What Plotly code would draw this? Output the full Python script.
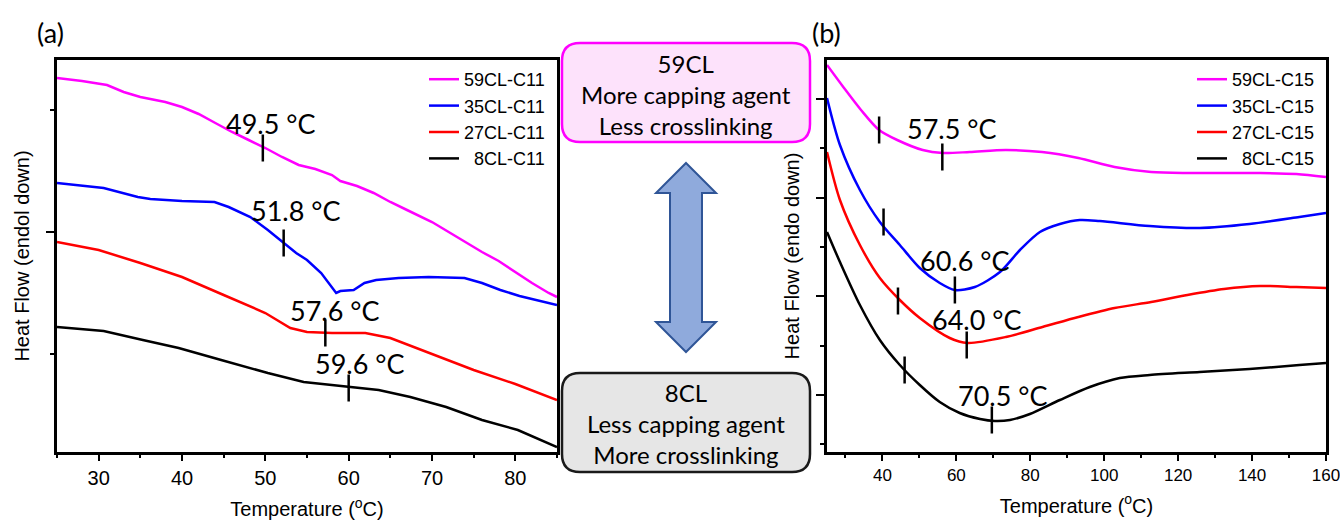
import plotly.graph_objects as go

# ---------------- data: panel (a) C11 series ----------------
t_a_59 = [25, 28, 31, 33, 35, 38, 40, 42, 44, 46, 48, 50, 52, 54, 56, 58, 59, 61, 63, 65, 67, 70, 72, 74, 76, 78, 80, 82, 84, 85]
hf_a_59 = [3.74, 3.71, 3.67, 3.60, 3.55, 3.50, 3.45, 3.38, 3.29, 3.20, 3.12, 3.04, 2.95, 2.87, 2.83, 2.77, 2.71, 2.66, 2.59, 2.50, 2.42, 2.30, 2.20, 2.10, 2.00, 1.91, 1.80, 1.69, 1.59, 1.55]

t_a_35 = [25, 30.6, 34.7, 36.2, 40, 43.9, 45.6, 48.2, 50.3, 52.2, 53.7, 55, 56.7, 58.5, 59, 60.6, 61.9, 63.3, 66, 69.6, 73.9, 76, 78.2, 80.5, 82.5, 85]
hf_a_35 = [2.69, 2.64, 2.55, 2.53, 2.51, 2.50, 2.45, 2.35, 2.22, 2.09, 1.99, 1.92, 1.79, 1.59, 1.61, 1.62, 1.69, 1.72, 1.74, 1.75, 1.74, 1.69, 1.62, 1.56, 1.52, 1.47]

t_a_27 = [25, 30, 35, 40, 45, 50, 53, 55, 58, 62, 65, 70, 75, 80, 85]
hf_a_27 = [2.10, 2.02, 1.89, 1.75, 1.57, 1.39, 1.24, 1.20, 1.19, 1.19, 1.14, 0.98, 0.82, 0.68, 0.52]

t_a_8 = [25, 30.6, 35.3, 39.6, 44.7, 50.3, 54.6, 60.1, 63.6, 67.4, 71.7, 76, 80.3, 85]
hf_a_8 = [1.25, 1.21, 1.12, 1.04, 0.92, 0.79, 0.70, 0.65, 0.62, 0.55, 0.45, 0.32, 0.22, 0.05]

# Tg marks (a)
mark_a_t = [49.7, 52.2, 57.2, 60.0]
mark_a_hf = [3.04, 2.09, 1.19, 0.64]
label_a_text = ["49.5 °C", "51.8 °C", "57.6 °C", "59.6 °C"]
label_a_t = [50.7, 53.7, 58.3, 61.4]
label_a_hf = [3.29, 2.42, 1.42, 0.89]

# ---------------- data: panel (b) C15 series ----------------
t_b_59 = [25, 29.4, 34.2, 39.1, 44, 50.9, 56.3, 63.6, 73.4, 83.2, 93, 102.8, 112.7, 122.5, 132.4, 142.2, 152, 160]
hf_b_59 = [3.87, 3.65, 3.42, 3.22, 3.12, 3.02, 2.99, 3.00, 3.02, 3.00, 2.94, 2.85, 2.80, 2.79, 2.79, 2.79, 2.78, 2.75]

t_b_35 = [25, 28.5, 33.9, 39.3, 44.7, 50.1, 55.5, 59.6, 65, 71.8, 77.2, 82.6, 88, 93.4, 98.8, 112.3, 125.8, 139.3, 152.8, 160]
hf_b_35 = [3.54, 3.07, 2.62, 2.30, 2.07, 1.84, 1.69, 1.62, 1.65, 1.80, 2.02, 2.20, 2.28, 2.32, 2.31, 2.26, 2.24, 2.28, 2.35, 2.39]

t_b_27 = [25, 28.5, 33.9, 39.3, 44.7, 50.1, 58.2, 63, 73.4, 83.3, 93, 102.8, 112.7, 122.5, 132.4, 142.2, 152, 160]
hf_b_27 = [3.00, 2.52, 2.07, 1.74, 1.52, 1.34, 1.14, 1.09, 1.15, 1.25, 1.35, 1.44, 1.50, 1.57, 1.63, 1.66, 1.65, 1.64]

t_b_8 = [25, 28.5, 33.9, 39.3, 44.7, 50.1, 55.5, 60.9, 66.4, 70.4, 74.5, 79.9, 88, 96.1, 104.2, 112.3, 125.8, 139.3, 152.8, 160]
hf_b_8 = [2.20, 1.90, 1.47, 1.12, 0.87, 0.67, 0.50, 0.39, 0.33, 0.31, 0.32, 0.38, 0.52, 0.65, 0.74, 0.77, 0.80, 0.83, 0.87, 0.89]

# Tg marks (b): two marks per curve
mark_b_t = [39.1, 56.2, 40.3, 59.6, 44.2, 62.8, 46.0, 69.6]
mark_b_hf = [3.22, 2.95, 2.30, 1.62, 1.51, 1.07, 0.82, 0.32]
label_b_text = ["57.5 °C", "60.6 °C", "64.0 °C", "70.5 °C"]
label_b_t = [58.8, 62.3, 65.7, 72.6]
label_b_hf = [3.24, 1.92, 1.33, 0.57]

names_a = ["59CL-C11", "35CL-C11", "27CL-C11", "\u20078CL-C11"]
names_b = ["59CL-C15", "35CL-C15", "27CL-C15", "\u20078CL-C15"]
colors = ["#FF00FF", "#0000FF", "#FF0000", "#000000"]

# ---------------- layout helpers (pixel -> paper) ----------------
W, H = 1340, 520
ML, MR, MT, MB = 57, 14, 60, 68
PW, PH = W - ML - MR, H - MT - MB


def pxx(x):
    return (x - ML) / PW


def pxy(y):
    return (H - MB - y) / PH


ARIAL = "Liberation Sans, Arial, sans-serif"
TICKFONT_A = dict(family=ARIAL, size=20, color="black")
TICKFONT_B = dict(family=ARIAL, size=17, color="black")
TITLEFONT = dict(family=ARIAL, size=20, color="black")
LEGFONT = dict(family=ARIAL, size=18, color="black")
CALFONT = "Lato, Carlito, Calibri, sans-serif"

fig = go.Figure()

series_a = [(t_a_59, hf_a_59), (t_a_35, hf_a_35), (t_a_27, hf_a_27), (t_a_8, hf_a_8)]
series_b = [(t_b_59, hf_b_59), (t_b_35, hf_b_35), (t_b_27, hf_b_27), (t_b_8, hf_b_8)]

for (t, h), n, c in zip(series_a, names_a, colors):
    fig.add_trace(go.Scatter(x=t, y=h, mode="lines", name=n, line=dict(color=c, width=2.5),
                             xaxis="x", yaxis="y", legend="legend"))
for (t, h), n, c in zip(series_b, names_b, colors):
    fig.add_trace(go.Scatter(x=t, y=h, mode="lines", name=n,
                             line=dict(color=c, width=2.5, shape="spline", smoothing=0.8),
                             xaxis="x2", yaxis="y2", legend="legend2"))

shapes = []
annotations = []
HALF = 0.135
for t, h in zip(mark_a_t, mark_a_hf):
    shapes.append(dict(type="line", xref="x", yref="y", x0=t, x1=t, y0=h - HALF, y1=h + HALF,
                       line=dict(color="black", width=2.5)))
for t, h in zip(mark_b_t, mark_b_hf):
    shapes.append(dict(type="line", xref="x2", yref="y2", x0=t, x1=t, y0=h - HALF, y1=h + HALF,
                       line=dict(color="black", width=2.5)))
for txt, t, h in zip(label_a_text, label_a_t, label_a_hf):
    annotations.append(dict(text=txt, x=t, y=h, xref="x", yref="y", showarrow=False,
                            xanchor="center", yanchor="middle",
                            font=dict(family=CALFONT, size=27, color="black")))
for txt, t, h in zip(label_b_text, label_b_t, label_b_hf):
    annotations.append(dict(text=txt, x=t, y=h, xref="x2", yref="y2", showarrow=False,
                            xanchor="center", yanchor="middle",
                            font=dict(family=CALFONT, size=27, color="black")))


def rrect(x0, y0, x1, y1, r):
    pts = [("M", [(x0 + r, y0)]), ("L", [(x1 - r, y0)]), ("Q", [(x1, y0), (x1, y0 + r)]),
           ("L", [(x1, y1 - r)]), ("Q", [(x1, y1), (x1 - r, y1)]), ("L", [(x0 + r, y1)]),
           ("Q", [(x0, y1), (x0, y1 - r)]), ("L", [(x0, y0 + r)]), ("Q", [(x0, y0), (x0 + r, y0)])]
    s = ""
    for cmd, ps in pts:
        s += cmd + " " + " ".join(f"{pxx(a):.5f},{pxy(b):.5f}" for a, b in ps) + " "
    return s + "Z"


shapes.append(dict(type="path", xref="paper", yref="paper", path=rrect(562, 43, 810, 142, 18),
                   fillcolor="#FDE2FB", line=dict(color="#FF00FF", width=2.5), layer="above"))
shapes.append(dict(type="path", xref="paper", yref="paper", path=rrect(562, 373, 810, 472, 18),
                   fillcolor="#E6E6E6", line=dict(color="#1A1A1A", width=2.5), layer="above"))

cx = 686
arrow = [(cx, 163), (cx + 30, 193), (cx + 16, 193), (cx + 16, 322), (cx + 30, 322), (cx, 352),
         (cx - 30, 322), (cx - 16, 322), (cx - 16, 193), (cx - 30, 193)]
apath = "M " + " L ".join(f"{pxx(a):.5f},{pxy(b):.5f}" for a, b in arrow) + " Z"
shapes.append(dict(type="path", xref="paper", yref="paper", path=apath,
                   fillcolor="#8FAADC", line=dict(color="#2F5597", width=2)))

annotations.append(dict(text="59CL<br>More capping agent<br>Less crosslinking", x=pxx(686), y=pxy(94),
                        xref="paper", yref="paper", showarrow=False, align="center",
                        xanchor="center", yanchor="middle",
                        font=dict(family=CALFONT, size=24, color="black")))
annotations.append(dict(text="8CL<br>Less capping agent<br>More crosslinking", x=pxx(686), y=pxy(423),
                        xref="paper", yref="paper", showarrow=False, align="center",
                        xanchor="center", yanchor="middle",
                        font=dict(family=CALFONT, size=24, color="black")))
annotations.append(dict(text="(a)", x=pxx(50), y=pxy(32), xref="paper", yref="paper", showarrow=False,
                        xanchor="center", yanchor="middle",
                        font=dict(family=CALFONT, size=27, color="black")))
annotations.append(dict(text="(b)", x=pxx(826), y=pxy(32), xref="paper", yref="paper", showarrow=False,
                        xanchor="center", yanchor="middle",
                        font=dict(family=CALFONT, size=27, color="black")))

common_x = dict(showline=True, linewidth=2.5, linecolor="black", mirror=True, ticks="outside",
                ticklen=6, tickwidth=2, tickcolor="black", showgrid=False, zeroline=False,
                automargin=False, ticklabeloverflow="allow")
common_y = dict(showline=True, linewidth=2.5, linecolor="black", mirror=True, ticks="outside",
                ticklen=8, tickwidth=2, tickcolor="black", showgrid=False, zeroline=False,
                showticklabels=False, automargin=False, range=[0, 3.92])

fig.update_layout(
    width=W, height=H, margin=dict(l=ML, r=MR, t=MT, b=MB),
    paper_bgcolor="white", plot_bgcolor="white",
    showlegend=True,
    xaxis=dict(common_x, domain=[0, pxx(557)], range=[25, 85], tick0=0, dtick=10, tickfont=TICKFONT_A,
               minor=dict(dtick=5, ticklen=3, tickwidth=2, tickcolor="black", ticks="outside"),
               title=dict(text="Temperature (<sup>o</sup>C)", font=TITLEFONT, standoff=16)),
    yaxis=dict(common_y, anchor="x", tick0=2.20, dtick=2.44,
               minor=dict(tick0=2.20, dtick=1.22, ticklen=4, tickwidth=2, tickcolor="black", ticks="outside"),
               title=dict(text="Heat Flow (endol down)", font=TITLEFONT, standoff=12)),
    xaxis2=dict(common_x, domain=[pxx(827), 1], range=[25, 160], tick0=0, dtick=20, anchor="y2",
                tickfont=TICKFONT_B,
                minor=dict(dtick=10, ticklen=3, tickwidth=2, tickcolor="black", ticks="outside"),
                title=dict(text="Temperature (<sup>o</sup>C)", font=TITLEFONT, standoff=15)),
    yaxis2=dict(common_y, anchor="x2", tick0=0.57, dtick=0.987,
                minor=dict(tick0=0.57, dtick=0.4935, ticklen=4, tickwidth=2, tickcolor="black", ticks="outside"),
                title=dict(text="Heat Flow (endo down)", font=TITLEFONT, standoff=12)),
    legend=dict(x=pxx(550), y=pxy(61), xanchor="right", yanchor="top", bgcolor="rgba(0,0,0,0)",
                font=LEGFONT, tracegroupgap=0, itemwidth=30),
    legend2=dict(x=pxx(1320), y=pxy(61), xanchor="right", yanchor="top", bgcolor="rgba(0,0,0,0)",
                 font=LEGFONT, tracegroupgap=0, itemwidth=30),
    shapes=shapes, annotations=annotations,
)

fig.write_html("out.html", config={"displayModeBar": False},
               post_script="document.body.style.margin='0px';document.body.style.overflow='hidden';")
